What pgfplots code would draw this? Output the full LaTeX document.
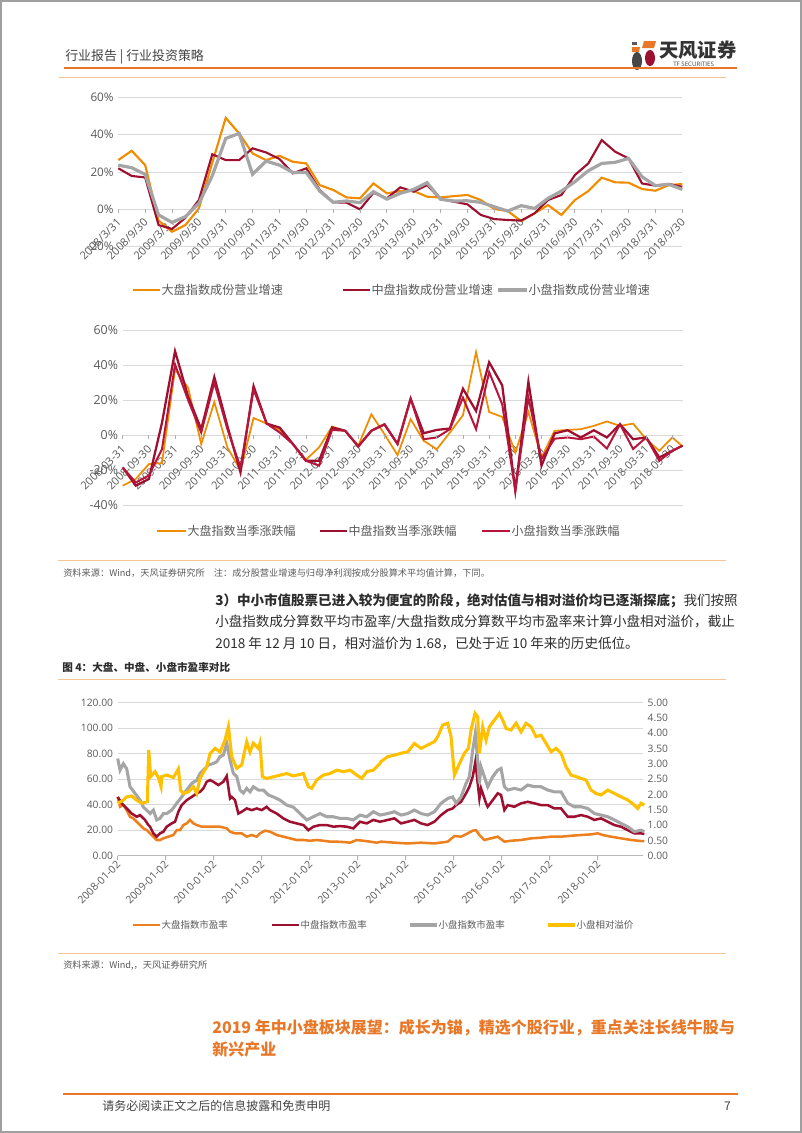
\documentclass[border=0pt]{standalone}
\usepackage{pgfplots}
\pgfplotsset{compat=1.18}
\usepackage{fontspec}
\setmainfont{Noto Sans CJK SC}
\newfontfamily\tf{Open Sans}
\definecolor{cOrange}{RGB}{240,140,0}
\definecolor{cRed}{RGB}{158,16,48}
\definecolor{cRed2}{RGB}{182,22,60}
\definecolor{cGray}{RGB}{165,165,165}
\definecolor{cGold}{RGB}{255,192,0}
\definecolor{cPE}{RGB}{237,128,30}
\definecolor{gridc}{RGB}{217,217,217}
\definecolor{tickc}{RGB}{89,89,89}
\definecolor{hdrOrange}{RGB}{232,120,40}
\definecolor{lineOrange}{RGB}{246,196,150}
\definecolor{bodyc}{RGB}{45,45,45}

\pgfplotsset{
  pagebase/.style={scale only axis, axis line style={draw=none}, major tick length=0pt,
    ymajorgrids, grid style={draw=gridc, line width=0.6pt},
    tick label style={font=\tf\fontsize{8.3}{9}\selectfont, text=tickc},
    /pgf/number format/assume math mode=true, clip=false},
}

\begin{document}
\begin{tikzpicture}[x=0.75pt,y=-0.75pt]
\path[use as bounding box] (0,0) rectangle (802,1133);
\draw[gray!75, line width=1.2pt] (0.8,0.8) rectangle (801.2,1132.2);

% header
\node[anchor=west, inner sep=0, font=\fontsize{9.7}{11}\selectfont, text=bodyc!90] at (65,57) {行业报告 | 行业投资策略};
\fill[hdrOrange] (644,41) -- (656,41) -- (654,48) -- (642,48) -- cycle;
\fill[gray!70!black] (632,42) rectangle (637,45);
\fill[hdrOrange] (632,47) -- (640,47) -- (639,52) -- (632,52) -- cycle;
\fill[gray!55!black] (637,61) ellipse [x radius=5, y radius=9];
\fill[cRed] (650,58) ellipse [x radius=5, y radius=8];
\node[anchor=west, inner sep=0, font=\fontsize{14.5}{15}\selectfont\bfseries, text=black!80] at (659,50) {天风证券};
\node[anchor=west, inner sep=0, font=\tf\fontsize{4.6}{5}\selectfont, text=black!75] at (673,64) {TF SECURITIES};
\draw[hdrOrange, line width=1.6pt] (64,68) -- (737,68);
\draw[lineOrange, line width=0.7pt] (59,77) -- (726,77);

% ---------------- chart 1
\begin{axis}[pagebase, at={(88.725pt,-185.025pt)}, anchor=south west, width=423pt, height=112pt,
  xmin=0, xmax=42, ymin=-20, ymax=60, ytick={-20,0,20,40,60},
  yticklabel={\pgfmathprintnumber{\tick}\%},
  yticklabel style={font=\tf\fontsize{8.8}{9}\selectfont},
  xtick={0,2,...,42},
  xticklabels={2008/3/31,2008/9/30,2009/3/31,2009/9/30,2010/3/31,2010/9/30,2011/3/31,2011/9/30,2012/3/31,2012/9/30,2013/3/31,2013/9/30,2014/3/31,2014/9/30,2015/3/31,2015/9/30,2016/3/31,2016/9/30,2017/3/31,2017/9/30,2018/3/31,2018/9/30},
  xticklabel style={yshift=22pt, xshift=3pt, rotate=45, anchor=east}]
\addplot[cOrange, line width=1.6pt] coordinates {(0,26.4)(1,31.4)(2,23.7)(3,-6)(4,-12)(5,-8.4)(6,0.5)(7,25)(8,49)(9,40.7)(10,30)(11,26.4)(12,28.7)(13,25.5)(14,24.6)(15,13)(16,10.4)(17,6.4)(18,5.9)(19,13.9)(20,8.6)(21,9.8)(22,9.8)(23,6.8)(24,6.4)(25,7.1)(26,7.7)(27,5)(28,0.2)(29,-0.9)(30,-6.3)(31,-2.1)(32,2.3)(33,-3)(34,5)(35,9.8)(36,17)(37,14.5)(38,14.3)(39,10.9)(40,10)(41,13)(42,13.6)};
\addplot[cRed, line width=1.6pt] coordinates {(0,22)(1,17.9)(2,17.1)(3,-8.4)(4,-10.5)(5,-4.5)(6,5)(7,29.5)(8,26.4)(9,26.4)(10,32.7)(11,30.5)(12,27)(13,19.3)(14,22)(15,10.4)(16,3.8)(17,3.6)(18,0)(19,8.9)(20,5.9)(21,11.8)(22,9.5)(23,13)(24,5.5)(25,4.1)(26,2.7)(27,-3)(28,-5.2)(29,-5.7)(30,-6)(31,-2.1)(32,5)(33,7.7)(34,18.4)(35,24.6)(36,37.1)(37,30.9)(38,27.3)(39,13.9)(40,12.7)(41,13.6)(42,12.1)};
\addplot[cGray, line width=2.4pt] coordinates {(0,23.7)(1,22.3)(2,18.75)(3,-3)(4,-7)(5,-3.9)(6,3.2)(7,18)(8,38)(9,40.7)(10,18.75)(11,25.9)(12,23.7)(13,19.8)(14,19.8)(15,9.8)(16,3.8)(17,4.5)(18,3.6)(19,9.5)(20,5.5)(21,8.6)(22,10.7)(23,14.3)(24,5.4)(25,4.5)(26,4.6)(27,3.75)(28,1.4)(29,-0.9)(30,2)(31,0.5)(32,5.9)(33,9.8)(34,14.8)(35,20.7)(36,24.6)(37,25.2)(38,27.3)(39,17.5)(40,12.7)(41,13.4)(42,10.7)};
\pgfplotsinvokeforeach{0,2,...,42}{\draw[gridc!80!black, line width=0.6pt] (axis cs:#1,0) -- ++(0pt,-3pt);}
\end{axis}
\draw[cOrange, line width=1.6pt] (133,290) -- (160,290);
\node[anchor=west, inner sep=1pt, font=\fontsize{9.1}{10}\selectfont, text=tickc] at (160,290) {大盘指数成份营业增速};
\draw[cRed, line width=1.6pt] (343,290) -- (370,290);
\node[anchor=west, inner sep=1pt, font=\fontsize{9.1}{10}\selectfont, text=tickc] at (370,290) {中盘指数成份营业增速};
\draw[cGray, line width=2.4pt] (498,290) -- (527,290);
\node[anchor=west, inner sep=1pt, font=\fontsize{9.1}{10}\selectfont, text=tickc] at (527,290) {小盘指数成份营业增速};

% ---------------- chart 2
\begin{axis}[pagebase, at={(92.025pt,-378.975pt)}, anchor=south west, width=419.9pt, height=131.5pt,
  xmin=0, xmax=42.78, ymin=-40, ymax=60, ytick={-40,-20,0,20,40,60},
  yticklabel={\pgfmathprintnumber{\tick}\%},
  yticklabel style={font=\tf\fontsize{9.3}{10}\selectfont},
  xtick={0,2,...,42},
  xticklabels={2008-03-31,2008-09-30,2009-03-31,2009-09-30,2010-03-31,2010-09-30,2011-03-31,2011-09-30,2012-03-31,2012-09-30,2013-03-31,2013-09-30,2014-03-31,2014-09-30,2015-03-31,2015-09-30,2016-03-31,2016-09-30,2017-03-31,2017-09-30,2018-03-31,2018-09-30},
  xticklabel style={yshift=46pt, xshift=3pt, rotate=45, anchor=east}]
\addplot[cOrange, line width=1.3pt] coordinates {(0,-28.8)(1,-25)(2,-16.5)(3,-16)(4,37.5)(5,27)(6,-5.1)(7,18.9)(8,-7)(9,-20)(10,9.8)(11,6.6)(12,3)(13,-5)(14,-14)(15,-7)(16,4.9)(17,2.5)(18,-6)(19,11.9)(20,0.6)(21,-11.4)(22,9.1)(23,-3.2)(24,-8)(25,1.5)(26,11.4)(27,47.3)(28,13.2)(29,10.4)(30,-10)(31,13.2)(32,-12.7)(33,2.5)(34,3)(35,3.4)(36,5.3)(37,7.8)(38,5.3)(39,6.6)(40,-2.3)(41,-8.9)(42,-1.3)(42.78,-6.4)};
\addplot[cRed, line width=1.7pt] coordinates {(0,-18.4)(1,-28.8)(2,-25)(3,7)(4,47.9)(5,22)(6,3.4)(7,33.1)(8,5.3)(9,-21.2)(10,28)(11,6.6)(12,4.3)(13,-5)(14,-14.6)(15,-14.6)(16,4.4)(17,2.5)(18,-6.4)(19,2.5)(20,6.2)(21,-5)(22,20.8)(23,1.1)(24,3)(25,3.8)(26,26.5)(27,13.8)(28,41.6)(29,28.4)(30,-31.6)(31,30.5)(32,-17.4)(33,1)(34,2.8)(35,-1.3)(36,2.8)(37,-1.3)(38,6.2)(39,-2.3)(40,-1.3)(41,-12.7)(42,-8.9)(42.78,-6)};
\addplot[cRed2, line width=1.5pt] coordinates {(0,-18.4)(1,-27)(2,-23)(3,-8)(4,40.3)(5,20)(6,1.5)(7,30)(8,3.4)(9,-18.4)(10,26)(11,6.6)(12,1.5)(13,-5)(14,-14.6)(15,-17.4)(16,3)(17,2.5)(18,-6.4)(19,2.5)(20,6.2)(21,-5)(22,20.8)(23,-2.3)(24,-1.3)(25,3.4)(26,21.4)(27,3.4)(28,36)(29,17.6)(30,-31.6)(31,21.4)(32,-13.6)(33,-2)(34,-1.3)(35,-2.3)(36,-0.8)(37,-7.6)(38,6.2)(39,-7.9)(40,-1.3)(41,-14.6)(42,-8.9)(42.78,-6)};
\pgfplotsinvokeforeach{0,2,...,42}{\draw[gridc!80!black, line width=0.6pt] (axis cs:#1,0) -- ++(0pt,-3pt);}
\end{axis}
\draw[cOrange, line width=1.3pt] (157,531) -- (186,531);
\node[anchor=west, inner sep=1pt, font=\fontsize{9}{10}\selectfont, text=tickc] at (186,531) {大盘指数当季涨跌幅};
\draw[cRed, line width=1.7pt] (320,531) -- (347,531);
\node[anchor=west, inner sep=1pt, font=\fontsize{9}{10}\selectfont, text=tickc] at (347,531) {中盘指数当季涨跌幅};
\draw[cRed2, line width=1.5pt] (482,531) -- (510,531);
\node[anchor=west, inner sep=1pt, font=\fontsize{9}{10}\selectfont, text=tickc] at (510,531) {小盘指数当季涨跌幅};

% source 1
\draw[lineOrange, line width=0.7pt] (58,560) -- (726,560);
\node[anchor=west, inner sep=0, font=\fontsize{6.9}{7}\selectfont, text=tickc] at (63,573) {资料来源：Wind，天风证券研究所\quad 注：成分股营业增速与归母净利润按成分股算术平均值计算，下同。};

% paragraph
\node[anchor=west, inner sep=0, font=\fontsize{10.15}{12}\selectfont, text=bodyc] at (215,601) {\textbf{3）中小市值股票已进入较为便宜的阶段，绝对估值与相对溢价均已逐渐探底；}我们按照};
\node[anchor=west, inner sep=0, font=\fontsize{10.15}{12}\selectfont, text=bodyc] at (215,622) {小盘指数成分算数平均市盈率/大盘指数成分算数平均市盈率来计算小盘相对溢价，截止};
\node[anchor=west, inner sep=0, font=\fontsize{10.15}{12}\selectfont, text=bodyc] at (215,643) {2018 年 12 月 10 日，相对溢价为 1.68，已处于近 10 年来的历史低位。};

% caption
\node[anchor=west, inner sep=0, font=\fontsize{7.95}{8}\selectfont\bfseries, text=bodyc] at (62,667) {图 4：大盘、中盘、小盘市盈率对比};
\draw[lineOrange, line width=0.7pt] (58,679) -- (726,679);

% ---------------- chart 3
\begin{axis}[pagebase, at={(88.275pt,-641.775pt)}, anchor=south west, width=394pt, height=115pt,
  xmin=0, xmax=10.944, ymin=0, ymax=120, ytick={0,20,...,120},
  yticklabel style={font=\tf\fontsize{7.7}{8}\selectfont, /pgf/number format/.cd, fixed, fixed zerofill, precision=2},
  xtick={0,...,10},
  xticklabels={2008-01-02,2009-01-02,2010-01-02,2011-01-02,2012-01-02,2013-01-02,2014-01-02,2015-01-02,2016-01-02,2017-01-02,2018-01-02},
  xticklabel style={yshift=-3pt, xshift=3pt, rotate=45, anchor=east, font=\tf\fontsize{7.9}{8}\selectfont}]
\draw[gridc!85!black, line width=0.7pt] (axis cs:0,0) -- (axis cs:10.944,0);
\pgfplotsinvokeforeach{0,...,10}{\draw[gridc!80!black, line width=0.6pt] (axis cs:#1,0) -- ++(0pt,-3pt);}
\addplot[cPE, line width=1.9pt] coordinates {(0,46)(0.049,38.3)(0.118,39.6)(0.1875,35.7)(0.257,30.5)(0.326,29.2)(0.396,26.6)(0.465,24)(0.535,21.4)(0.604,20)(0.674,17.5)(0.743,14.9)(0.8125,12.3)(0.882,12.3)(0.951,13.6)(1.056,14.9)(1.16,16.2)(1.229,20)(1.299,20)(1.368,24)(1.4375,25.3)(1.507,28)(1.576,25.3)(1.646,24)(1.75,22.7)(1.854,22.7)(1.993,22.7)(2.132,22.7)(2.271,21.4)(2.34,18.8)(2.444,17.5)(2.583,17.5)(2.6875,14.9)(2.792,16.2)(2.896,14.9)(2.965,17.5)(3.069,19.6)(3.174,18.8)(3.3125,16.2)(3.451,14.9)(3.59,13.6)(3.729,12.3)(3.868,12.3)(4.007,11.7)(4.146,12.3)(4.285,11.7)(4.424,11)(4.5625,11)(4.701,10.7)(4.84,10.2)(4.979,12.3)(5.118,11.7)(5.257,11)(5.396,10.2)(5.486,11)(5.764,10.2)(6.042,9.6)(6.319,10.2)(6.597,9.6)(6.875,11)(7.014,15.4)(7.153,14.9)(7.292,17.5)(7.396,19.6)(7.465,20)(7.535,16.2)(7.639,12.3)(7.778,13.6)(7.917,14.9)(8.056,11)(8.194,11.7)(8.403,12.3)(8.611,13.6)(8.819,14.1)(9.028,14.9)(9.236,14.9)(9.444,15.6)(9.653,16.2)(9.861,16.7)(10.0,17.5)(10.104,16.2)(10.278,14.9)(10.486,13.6)(10.694,12.3)(10.903,11.5)(10.972,11.5)};
\addplot[cRed, line width=1.9pt] coordinates {(0,46)(0.083,41)(0.1875,37)(0.292,33)(0.396,30.5)(0.465,31.8)(0.569,28)(0.639,24)(0.674,22.7)(0.743,17.5)(0.8125,14.9)(0.882,17.5)(0.951,18.8)(1.021,22.7)(1.125,25.3)(1.194,26.6)(1.264,34.4)(1.333,39.6)(1.4375,43.5)(1.542,46)(1.646,48.8)(1.715,50)(1.785,52.7)(1.854,57.9)(1.924,59.2)(1.993,57.9)(2.097,55.3)(2.201,57.9)(2.271,62.3)(2.34,44.8)(2.375,46)(2.444,43.5)(2.514,33)(2.583,34.4)(2.6875,37)(2.792,35.7)(2.896,37)(3.0,35.7)(3.104,38.3)(3.174,35.7)(3.3125,33)(3.451,29.2)(3.59,26.6)(3.729,25.3)(3.868,24)(3.972,20)(4.076,22.7)(4.215,24)(4.354,24)(4.493,22.7)(4.632,23.2)(4.771,22.7)(4.91,21.4)(5.049,26.6)(5.1875,25.3)(5.326,28)(5.465,26.6)(5.625,28)(5.764,29.2)(5.903,25.3)(6.042,26.6)(6.181,28)(6.319,25.3)(6.458,24)(6.597,26.6)(6.736,31.8)(6.875,35.7)(6.979,37)(7.049,39.6)(7.153,42.2)(7.257,48.8)(7.326,54)(7.396,61.8)(7.451,73.5)(7.5,56.6)(7.535,44.8)(7.569,52.7)(7.674,41)(7.708,38.3)(7.812,43.5)(7.917,48.8)(7.986,47.5)(8.056,35.7)(8.125,39.6)(8.264,38.3)(8.403,41)(8.542,42.2)(8.681,41)(8.819,39.6)(8.958,39.6)(9.097,37)(9.236,37)(9.375,30.5)(9.514,30.5)(9.653,31.8)(9.792,30.5)(9.931,28)(10.069,29.2)(10.208,26.6)(10.347,24)(10.486,22.7)(10.625,20)(10.764,17.5)(10.903,17.5)(10.972,17)};
\addplot[cGray, line width=2.3pt] coordinates {(0,76)(0.049,67)(0.118,72)(0.1875,68)(0.257,54)(0.361,48.8)(0.465,43.5)(0.535,38)(0.604,35.7)(0.674,33)(0.743,35.7)(0.8125,28)(0.882,29.2)(0.951,33)(1.021,33)(1.125,35.7)(1.229,41)(1.333,46)(1.4375,51.4)(1.542,56.6)(1.646,59)(1.715,64.4)(1.785,67)(1.889,71)(1.993,72.2)(2.0625,73.5)(2.132,77.5)(2.201,78.8)(2.271,88)(2.34,75)(2.41,64.4)(2.479,62)(2.549,51.4)(2.618,49)(2.6875,52.7)(2.757,50)(2.826,54)(2.931,51.4)(3.035,51.4)(3.139,47.5)(3.243,46)(3.382,43.5)(3.521,39.6)(3.66,38)(3.799,33)(3.9375,28)(4.076,30.5)(4.215,33)(4.354,30.5)(4.493,30.5)(4.632,29.2)(4.771,29.2)(4.91,28)(5.049,31.8)(5.1875,30.5)(5.326,34.4)(5.465,31.8)(5.625,33)(5.764,34.4)(5.903,31.8)(6.042,33)(6.181,35.7)(6.319,33)(6.458,31.8)(6.597,34.4)(6.736,41)(6.875,44.8)(6.979,46)(7.049,41)(7.153,46)(7.257,56.6)(7.326,61.8)(7.396,82.7)(7.451,95.7)(7.5,74.8)(7.535,56.6)(7.569,69.6)(7.639,61.8)(7.708,54)(7.812,61.8)(7.917,67)(7.986,68.3)(8.056,54)(8.125,51.4)(8.264,52.7)(8.403,51.4)(8.542,55.3)(8.681,54)(8.819,54)(8.958,51.4)(9.097,50)(9.236,50)(9.375,41)(9.514,38.3)(9.653,38.3)(9.792,37)(9.931,33)(10.069,31.8)(10.208,30.5)(10.347,28)(10.486,25.3)(10.625,22.7)(10.764,18.8)(10.903,20)(10.972,18.8)};
\end{axis}
\begin{axis}[pagebase, at={(88.275pt,-641.775pt)}, anchor=south west, width=394pt, height=115pt,
  xmin=0, xmax=10.944, ymin=0, ymax=5, ymajorgrids=false, ytick={0,0.5,...,5},
  axis x line=none, axis y line*=right,
  yticklabel style={font=\tf\fontsize{7.7}{8}\selectfont, anchor=west, /pgf/number format/.cd, fixed, fixed zerofill, precision=2}]
\addplot[cGold, line width=2.3pt] coordinates {(0,1.71)(0.118,1.81)(0.1875,1.92)(0.292,1.95)(0.396,1.81)(0.5,1.71)(0.618,1.76)(0.646,3.45)(0.6875,2.58)(0.778,2.74)(0.847,2.55)(0.903,2.25)(0.917,2.58)(1.021,2.63)(1.16,2.55)(1.264,2.83)(1.3125,2.13)(1.368,2.03)(1.472,2.08)(1.576,2.25)(1.646,2.03)(1.715,2.52)(1.854,2.9)(1.924,3.33)(2.028,3.5)(2.132,3.38)(2.236,3.77)(2.306,4.21)(2.375,3.23)(2.479,2.85)(2.583,2.96)(2.6875,3.71)(2.757,3.38)(2.826,3.67)(2.931,3.5)(2.965,3.67)(3.014,2.58)(3.104,2.52)(3.3125,2.6)(3.521,2.68)(3.66,2.6)(3.868,2.68)(3.972,2.25)(4.042,2.2)(4.146,2.47)(4.285,2.63)(4.424,2.68)(4.5625,2.79)(4.701,2.74)(4.84,2.79)(4.979,2.63)(5.083,2.52)(5.1875,2.74)(5.326,2.79)(5.465,3.01)(5.486,3.07)(5.625,3.23)(5.764,3.28)(5.903,3.34)(6.042,3.39)(6.181,3.66)(6.319,3.5)(6.458,3.61)(6.597,3.72)(6.667,3.88)(6.771,4.26)(6.875,4.32)(6.944,3.88)(7.014,2.63)(7.118,3.0)(7.222,3.34)(7.306,3.5)(7.361,4.1)(7.444,4.64)(7.5,4.53)(7.535,3.34)(7.604,4.2)(7.674,3.77)(7.743,4.2)(7.847,4.42)(7.951,4.64)(8.021,4.42)(8.09,4.15)(8.194,4.1)(8.299,4.32)(8.403,4.04)(8.507,4.32)(8.611,4.2)(8.715,3.88)(8.819,3.93)(8.924,3.66)(9.028,3.39)(9.132,3.5)(9.236,3.34)(9.34,2.9)(9.444,2.63)(9.549,2.58)(9.653,2.52)(9.757,2.47)(9.861,2.14)(9.965,2.03)(10.069,1.98)(10.208,2.14)(10.347,2.03)(10.486,1.92)(10.625,1.82)(10.764,1.65)(10.833,1.54)(10.903,1.71)(10.972,1.65)};
\end{axis}
\draw[cPE, line width=1.9pt] (133,925) -- (160,925);
\node[anchor=west, inner sep=1pt, font=\fontsize{7.1}{8}\selectfont, text=tickc] at (160,925) {大盘指数市盈率};
\draw[cRed, line width=1.9pt] (272,925) -- (299,925);
\node[anchor=west, inner sep=1pt, font=\fontsize{7.1}{8}\selectfont, text=tickc] at (299,925) {中盘指数市盈率};
\draw[cGray, line width=2.3pt] (410,925) -- (437,925);
\node[anchor=west, inner sep=1pt, font=\fontsize{7.1}{8}\selectfont, text=tickc] at (437,925) {小盘指数市盈率};
\draw[cGold, line width=2.3pt] (548,925) -- (575,925);
\node[anchor=west, inner sep=1pt, font=\fontsize{7.1}{8}\selectfont, text=tickc] at (575,925) {小盘相对溢价};

% source 2
\draw[lineOrange, line width=0.7pt] (58,953) -- (726,953);
\node[anchor=west, inner sep=0, font=\fontsize{6.9}{7}\selectfont, text=tickc] at (63,965) {资料来源：Wind,，天风证券研究所};

% heading
\node[anchor=west, inner sep=0, font=\fontsize{12}{14}\selectfont\bfseries, text=hdrOrange] at (212,1028) {2019 年中小盘板块展望：成长为锚，精选个股行业，重点关注长线牛股与};
\node[anchor=west, inner sep=0, font=\fontsize{12}{14}\selectfont\bfseries, text=hdrOrange] at (212,1049) {新兴产业};

% footer
\draw[hdrOrange, line width=1.6pt] (63,1094) -- (738,1094);
\node[anchor=west, inner sep=0, font=\fontsize{9}{10}\selectfont, text=bodyc!90] at (102,1106) {请务必阅读正文之后的信息披露和免责申明};
\node[anchor=east, inner sep=0, font=\fontsize{9}{10}\selectfont, text=bodyc!90] at (731,1106) {7};
\end{tikzpicture}
\end{document}
